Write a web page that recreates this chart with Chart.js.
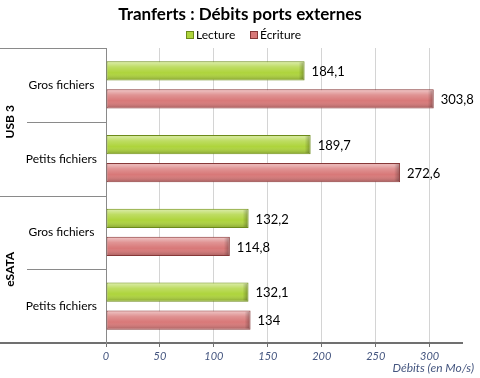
<!DOCTYPE html>
<html>
<head>
<meta charset="utf-8">
<script src="https://cdn.jsdelivr.net/npm/chart.js@4"></script>
<style>
  html, body { margin: 0; padding: 0; background: #fff; }
  #wrap { width: 480px; height: 378px; }
</style>
</head>
<body>
<div id="wrap"><canvas id="chart" width="480" height="378"></canvas></div>
<script>
// Data
const titleText = 'Tranferts : Débits ports externes';
const categories = ['Gros fichiers', 'Petits fichiers', 'Gros fichiers', 'Petits fichiers'];
const groupLabels = ['USB 3', 'eSATA'];
const groupStarts = [0, 2];
const lecture = [184.1, 189.7, 132.2, 132.1];
const ecriture = [303.8, 272.6, 114.8, 134];
const axisTitle = 'Débits (en Mo/s)';

const FONT = 'Lato, "Open Sans", sans-serif';
const greenFill = '#aed43c', greenEdge = '#6c8a1a';
const redFill = '#d87878', redEdge = '#863838';

// Format numbers with a French comma
function fmt(v) {
    return String(v).replace('.', ',');
}

// Title, legend, left axis boxes, gloss and value labels
const decor = {
    id: 'decor',
    beforeDraw(chart) {
        const ctx = chart.ctx;
        ctx.save();
        ctx.fillStyle = '#fff';
        ctx.fillRect(0, 0, chart.width, chart.height);

        ctx.fillStyle = '#000';
        ctx.font = 'bold 17px ' + FONT;
        ctx.textAlign = 'center';
        ctx.textBaseline = 'middle';
        ctx.fillText(titleText, 240, 15);

        // legend
        ctx.font = '12px ' + FONT;
        ctx.textAlign = 'left';
        const items = [['Lecture', greenFill, greenEdge, 186], ['Écriture', redFill, redEdge, 250]];
        items.forEach(([label, fill, edge, x]) => {
            ctx.fillStyle = fill;
            ctx.fillRect(x, 31, 8, 8);
            ctx.strokeStyle = edge;
            ctx.lineWidth = 1;
            ctx.strokeRect(x + 0.5, 31.5, 7, 7);
            ctx.fillStyle = '#000';
            ctx.fillText(label, x + 10, 35.5);
        });
        ctx.restore();
    },
    afterDatasetsDraw(chart) {
        const ctx = chart.ctx;
        ctx.save();
        chart.data.datasets.forEach((ds, di) => {
            const meta = chart.getDatasetMeta(di);
            meta.data.forEach((el, i) => {
                const top = el.y - el.height / 2;
                const left = Math.min(el.base, el.x);
                const w = Math.abs(el.x - el.base);
                const g = ctx.createLinearGradient(0, top, 0, top + el.height);
                g.addColorStop(0, 'rgba(255,255,255,0.6)');
                g.addColorStop(0.3, 'rgba(255,255,255,0.2)');
                g.addColorStop(0.6, 'rgba(255,255,255,0)');
                g.addColorStop(1, 'rgba(0,0,0,0.25)');
                ctx.fillStyle = g;
                ctx.fillRect(left + 1, top + 1, w - 2, el.height - 2);
                // bevelled end
                const e = ctx.createLinearGradient(el.x - 6, 0, el.x, 0);
                e.addColorStop(0, 'rgba(0,0,0,0)');
                e.addColorStop(1, 'rgba(0,0,0,0.3)');
                ctx.fillStyle = e;
                ctx.fillRect(el.x - 6, top + 1, 5, el.height - 2);

                ctx.fillStyle = '#000';
                ctx.font = '13px ' + FONT;
                ctx.textAlign = 'left';
                ctx.textBaseline = 'middle';
                ctx.fillText(fmt(ds.data[i]), el.x + 7, el.y + 1);
            });
        });
        ctx.restore();
    },
    afterDraw(chart) {
        const ctx = chart.ctx;
        const y = chart.scales.y;
        const right = y.right;
        const mid = i => (y.getPixelForValue(i) + y.getPixelForValue(i + 1)) / 2;
        ctx.save();
        ctx.strokeStyle = '#8a8a8a';
        ctx.lineWidth = 1;
        const line = (x0, yy) => {
            ctx.beginPath();
            ctx.moveTo(x0, Math.round(yy) + 0.5);
            ctx.lineTo(right, Math.round(yy) + 0.5);
            ctx.stroke();
        };
        line(0, y.top);
        for (let i = 0; i < categories.length - 1; i++) {
            line(groupStarts.includes(i + 1) ? 0 : 27, mid(i));
        }
        ctx.strokeStyle = '#707070';
        ctx.lineWidth = 2;
        ctx.beginPath();
        ctx.moveTo(0, y.bottom);
        ctx.lineTo(right, y.bottom);
        ctx.stroke();

        // group labels
        ctx.fillStyle = '#000';
        ctx.font = 'bold 12px ' + FONT;
        ctx.textAlign = 'center';
        ctx.textBaseline = 'middle';
        groupLabels.forEach((label, g) => {
            const from = groupStarts[g];
            const to = g + 1 < groupStarts.length ? groupStarts[g + 1] - 1 : categories.length - 1;
            const cy = (y.getPixelForValue(from) + y.getPixelForValue(to)) / 2;
            ctx.save();
            ctx.translate(10, cy);
            ctx.rotate(-Math.PI / 2);
            ctx.fillText(label, 0, 0);
            ctx.restore();
        });

        // axis title
        ctx.fillStyle = '#44557f';
        ctx.font = 'italic 12px ' + FONT;
        ctx.textAlign = 'right';
        ctx.fillText(axisTitle, 474, 368);
        ctx.restore();
    }
};

new Chart(document.getElementById('chart'), {
    type: 'bar',
    data: {
        labels: categories,
        datasets: [
            {
                label: 'Lecture',
                data: lecture,
                backgroundColor: greenFill,
                borderColor: greenEdge,
                borderWidth: 1,
                borderSkipped: false,
                categoryPercentage: 0.76,
                barPercentage: 0.68
            },
            {
                label: 'Écriture',
                data: ecriture,
                backgroundColor: redFill,
                borderColor: redEdge,
                borderWidth: 1,
                borderSkipped: false,
                categoryPercentage: 0.76,
                barPercentage: 0.68
            }
        ]
    },
    options: {
        indexAxis: 'y',
        responsive: false,
        animation: false,
        layout: { padding: { top: 48, right: 18, bottom: 0, left: 0 } },
        plugins: {
            legend: { display: false },
            title: { display: false },
            tooltip: { enabled: false }
        },
        scales: {
            x: {
                min: 0,
                max: 330,
                afterFit: s => { s.height = 35; },
                grid: {
                    color: ctx => ctx.tick && ctx.tick.value === 0 ? 'rgba(0,0,0,0)' : '#d4d4d4',
                    borderDash: [4, 3],
                    tickColor: '#707070',
                    tickLength: 4,
                    tickBorderDash: []
                },
                border: { color: '#707070', width: 2 },
                ticks: {
                    stepSize: 50,
                    includeBounds: false,
                    padding: 3,
                    color: '#44557f',
                    font: { family: FONT, size: 11, style: 'italic' }
                }
            },
            y: {
                afterFit: s => { s.width = 106; },
                grid: { display: false, drawTicks: false },
                border: { color: '#8a8a8a', width: 1 },
                ticks: {
                    crossAlign: 'center',
                    padding: 9,
                    color: '#000',
                    font: { family: FONT, size: 12 }
                }
            }
        }
    },
    plugins: [decor]
});
</script>
</body>
</html>
